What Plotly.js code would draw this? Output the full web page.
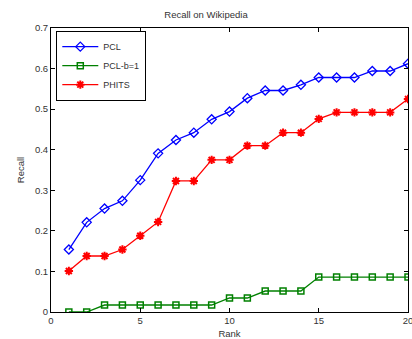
<!DOCTYPE html>
<html><head><meta charset="utf-8">
<script src="https://cdn.plot.ly/plotly-3.0.1.min.js"></script>
<style>html,body{margin:0;padding:0;background:#fff}#c{width:412px;height:339px}</style>
</head><body><div id="c"></div>
<script>
const rank = [1,2,3,4,5,6,7,8,9,10,11,12,13,14,15,16,17,18,19,20];
const pcl = [0.154,0.221,0.255,0.274,0.325,0.391,0.424,0.442,0.475,0.494,0.527,0.546,0.546,0.560,0.578,0.578,0.578,0.594,0.594,0.612];
const pclB1 = [0,0,0.0172,0.0172,0.0172,0.0172,0.0172,0.0172,0.0172,0.0345,0.0345,0.0517,0.0517,0.0517,0.0862,0.0862,0.0862,0.0862,0.0862,0.0862];
const phits = [0.101,0.138,0.138,0.154,0.188,0.222,0.323,0.323,0.375,0.375,0.410,0.410,0.442,0.442,0.476,0.492,0.492,0.492,0.492,0.525];
const seriesNames = ["PCL","PCL-b=1","PHITS"];
const xTicks = [0,5,10,15,20];
const yTicks = [0,0.1,0.2,0.3,0.4,0.5,0.6,0.7];
const yTickText = ["0","0.1","0.2","0.3","0.4","0.5","0.6","0.7"];

const font = {family:"Liberation Sans, Arial, sans-serif", size:9.5, color:"#333"};
const traces = [
  {x:rank,y:pcl,name:seriesNames[0],mode:"lines+markers",line:{color:"#0000ff",width:1.3},
   marker:{symbol:"diamond-open",size:7,color:"#0000ff",line:{width:1.3}}},
  {x:rank,y:pclB1,name:seriesNames[1],mode:"lines+markers",line:{color:"#008000",width:1.3},
   marker:{symbol:"square-open",size:6,color:"#008000",line:{width:1.5}}},
  {x:rank,y:phits,name:seriesNames[2],mode:"lines+markers",line:{color:"#ff0000",width:1.3},
   marker:{symbol:"asterisk-open",size:7,color:"#ff0000",line:{width:2,color:"#ff0000"}}}
];
const layout = {
  width:412,height:339,
  margin:{l:51,r:4,t:28,b:27},
  paper_bgcolor:"#fff",plot_bgcolor:"#fff",
  font:font,
  showlegend:true,
  title:{text:"Recall on Wikipedia",font:{family:font.family,size:9.5,color:"#333"},x:0.5,xanchor:"center",y:1-15/339,yanchor:"middle"},
  xaxis:{range:[0,20],tickvals:xTicks,ticks:"inside",ticklen:4,tickcolor:"#000",
    showline:true,linecolor:"#000",linewidth:1,mirror:"ticks",showgrid:false,zeroline:false,
    ticklabeloverflow:"allow",
    tickfont:{size:9.5,color:"#333"},
    title:{text:"Rank",font:{size:9.5,color:"#333"},standoff:4}},
  yaxis:{range:[0,0.7],tickvals:yTicks,ticktext:yTickText,ticks:"inside",ticklen:4,tickcolor:"#000",
    showline:true,linecolor:"#000",linewidth:1,mirror:"ticks",showgrid:false,zeroline:false,
    tickfont:{size:9.5,color:"#333"},
    title:{text:"Recall",font:{size:9.5,color:"#333"},standoff:8}},
  legend:{x:0.014,y:0.99,xanchor:"left",yanchor:"top",bgcolor:"#fff",bordercolor:"#000",borderwidth:1.3,
    font:{size:9,color:"#333"},tracegroupgap:0,itemwidth:36}
};
Plotly.newPlot("c",traces,layout,{displayModeBar:false,staticPlot:true});
</script></body></html>
